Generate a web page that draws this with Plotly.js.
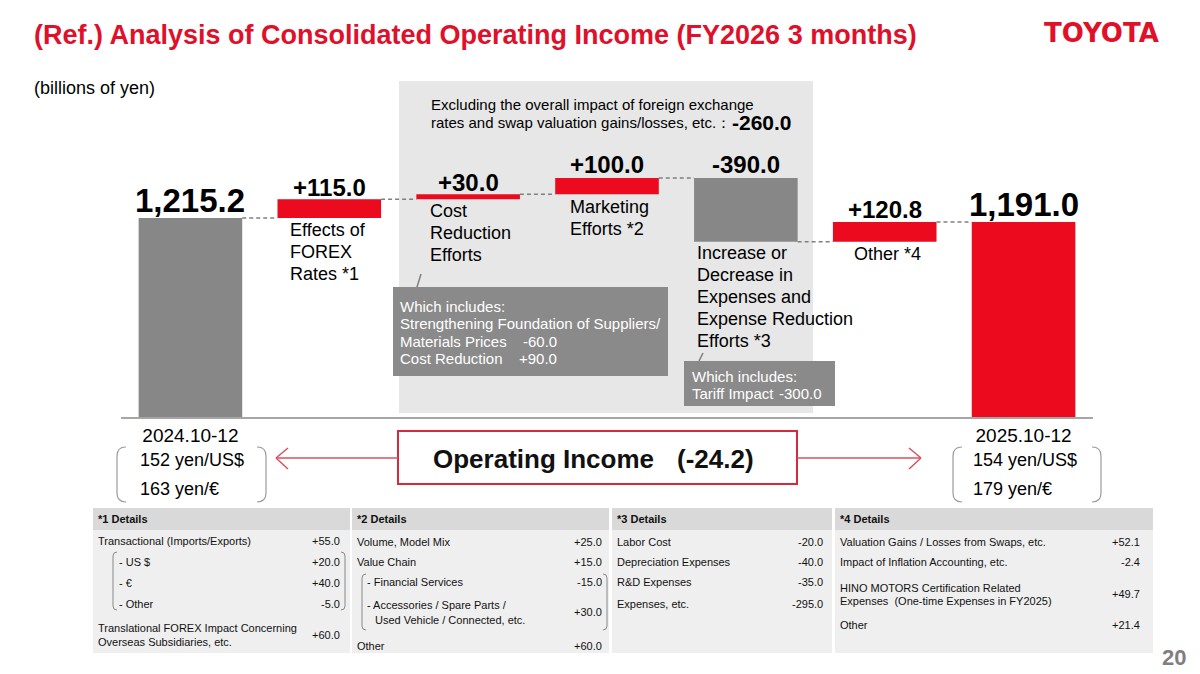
<!DOCTYPE html>
<html><head><meta charset="utf-8">
<script src="https://cdn.plot.ly/plotly-3.0.1.min.js"></script>
<style>html,body{margin:0;padding:0;background:#fff}#chart{width:1200px;height:674px}</style>
</head><body><div id="chart"></div>
<script>
// ================= DATA =================
const categories = ['2024.10-12', 'Effects of FOREX Rates *1', 'Cost Reduction Efforts', 'Marketing Efforts *2',
  'Increase or Decrease in Expenses and Expense Reduction Efforts *3', 'Other *4', '2025.10-12'];
const measures = ['absolute', 'relative', 'relative', 'relative', 'relative', 'relative', 'total'];
const values = [1215.2, 115.0, 30.0, 100.0, -390.0, 120.8, 1191.0];
const valueLabels = ['1,215.2', '+115.0', '+30.0', '+100.0', '-390.0', '+120.8', '1,191.0'];
const categoryLines = [[], ['Effects of', 'FOREX', 'Rates *1'], ['Cost', 'Reduction', 'Efforts'],
  ['Marketing', 'Efforts *2'], ['Increase or', 'Decrease in', 'Expenses and', 'Expense Reduction', 'Efforts *3'],
  ['Other *4'], []];
const tickLabels = ['2024.10-12', '', '', '', '', '', '2025.10-12'];
const rates2024 = ['152 yen/US$', '163 yen/€'];
const rates2025 = ['154 yen/US$', '179 yen/€'];
const excludingNote = ['Excluding the overall impact of foreign exchange', 'rates and swap valuation gains/losses, etc.：'];
const excludingValue = '-260.0';
const operatingIncomeLabel = 'Operating Income';
const operatingIncomeChange = '(-24.2)';
const costCalloutLines = ['Which includes:', 'Strengthening Foundation of Suppliers/', 'Materials Prices', 'Cost Reduction'];
const costCalloutValues = ['', '', '-60.0', '+90.0'];
const tariffCalloutLines = ['Which includes:', 'Tariff Impact'];
const tariffCalloutValues = ['', '-300.0'];
const titleText = '(Ref.) Analysis of Consolidated Operating Income (FY2026 3 months)';
const unitText = '(billions of yen)';
const logoText = 'TOYOTA';
const pageNumber = '20';

const details1Header = '*1 Details';
const details1Labels = ['Transactional (Imports/Exports)', '- US $', '- €', '- Other', 'Translational FOREX Impact Concerning|Overseas Subsidiaries, etc.'];
const details1Values = ['+55.0', '+20.0', '+40.0', '-5.0', '+60.0'];
const details2Header = '*2 Details';
const details2Labels = ['Volume, Model Mix', 'Value Chain', '- Financial Services', '- Accessories / Spare Parts /|  Used Vehicle / Connected, etc.', 'Other'];
const details2Values = ['+25.0', '+15.0', '-15.0', '+30.0', '+60.0'];
const details3Header = '*3 Details';
const details3Labels = ['Labor Cost', 'Depreciation Expenses', 'R&D Expenses', 'Expenses, etc.'];
const details3Values = ['-20.0', '-40.0', '-35.0', '-295.0'];
const details4Header = '*4 Details';
const details4Labels = ['Valuation Gains / Losses from Swaps, etc.', 'Impact of Inflation Accounting, etc.', 'HINO MOTORS Certification Related|Expenses  (One-time Expenses in FY2025)', 'Other'];
const details4Values = ['+52.1', '-2.4', '+49.7', '+21.4'];

// ================= STYLE / LAYOUT =================
const FONT = 'Liberation Sans, Arial, Helvetica, sans-serif';
const RED = '#EB0A1E', GRAY = '#878787';
const L = 121, T = 80, W = 972, H = 337;          // plot area in pixels
const px = x => (x - L) / W;
const py = y => (T + H - y) / H;
const BW = 0.746;

// waterfall geometry from data
const bases = [], heights = [], tops = [], levels = [];
let run = 0;
values.forEach((v, i) => {
  if (measures[i] === 'relative') { bases.push(run); heights.push(v); run += v; }
  else { bases.push(0); heights.push(v); run = v; }
  levels.push(run);
  tops.push(Math.max(bases[i], bases[i] + heights[i]));
});
const barColors = values.map((v, i) => measures[i] === 'total' ? RED : measures[i] === 'absolute' ? GRAY : (v >= 0 ? RED : GRAY));

const annotations = [];
const shapes = [];
function txt(x, y, text, o) {
  o = o || {};
  annotations.push({
    xref: 'paper', yref: 'paper', x: px(x), y: py(y), text: o.bold ? '<b>' + text + '</b>' : text,
    showarrow: false, xanchor: o.anchor || 'left', yanchor: 'middle', borderpad: 0,
    font: { family: o.family || FONT, size: o.size || 11, color: o.color || '#000' }
  });
}
function rect(x0, y0, x1, y1, fill, line, layer) {
  shapes.push({ type: 'rect', xref: 'paper', yref: 'paper', x0: px(x0), x1: px(x1), y0: py(y1), y1: py(y0),
    fillcolor: fill || 'rgba(0,0,0,0)', line: line || { width: 0 }, layer: layer || 'above' });
}
function seg(x0, y0, x1, y1, color, width) {
  shapes.push({ type: 'line', xref: 'paper', yref: 'paper', x0: px(x0), x1: px(x1), y0: py(y0), y1: py(y1),
    line: { color: color, width: width } });
}
function bracket(xv, xend, yt, yb, r, color, width) {
  const d = xend > xv ? r : -r;
  const p = (x, y) => px(x) + ',' + py(y);
  shapes.push({ type: 'path', xref: 'paper', yref: 'paper',
    path: 'M' + p(xv + d, yt) + ' Q' + p(xv, yt) + ' ' + p(xv, yt + r) + ' L' + p(xv, yb - r) + ' Q' + p(xv, yb) + ' ' + p(xv + d, yb),
    line: { color: color, width: width } });
}

// background panel of the "excluding" group
rect(399, 81, 813, 413, '#E7E7E7', null, 'below');

// connectors
for (let i = 0; i < values.length - 1; i++) {
  shapes.push({ type: 'line', xref: 'x', yref: 'y', x0: i + BW / 2, x1: i + 1 - BW / 2, y0: levels[i], y1: levels[i],
    line: { color: '#808080', width: 1.5, dash: '4px,3px' } });
}

// title etc.
txt(33, 35, titleText, { size: 27, bold: true, color: '#E0102A' });
txt(1043, 33, logoText, { size: 26, bold: true, color: '#E0102A', family: 'DejaVu Sans, ' + FONT });
txt(33, 88, unitText, { size: 18 });
txt(1161, 657, pageNumber, { size: 22, bold: true, color: '#7F7F7F' });

// excluding note
txt(430, 104, excludingNote[0], { size: 15 });
txt(430, 122, excludingNote[1], { size: 15 });
txt(731, 122, excludingValue, { size: 21, bold: true });

// value labels (tied to data)
const labelShift = [18, 12, 12, 13, 13, 12, 17];
const labelSize = [33, 24, 24, 24, 24, 24, 33];
valueLabels.forEach((t, i) => {
  annotations.push({ xref: 'x', yref: 'y', x: i, y: tops[i], yshift: labelShift[i], text: '<b>' + t + '</b>',
    showarrow: false, xanchor: 'center', yanchor: 'middle', borderpad: 0,
    font: { family: FONT, size: labelSize[i], color: '#000' } });
});

// category labels
const catX = [0, 289, 429, 569, 696, 887, 0];
const catY = [0, 230, 211, 207, 253, 254, 0];
categoryLines.forEach((lines, i) => {
  lines.forEach((ln, k) => txt(catX[i], catY[i] + k * 22, ln, { size: 18, anchor: i === 5 ? 'center' : 'left' }));
});

// callouts
seg(421, 274, 417, 287, '#7F7F7F', 1.5);
rect(393, 287, 668, 376, '#8A8A8A');
costCalloutLines.forEach((ln, k) => {
  const y = [306, 323, 341, 358][k];
  txt(399, y, ln, { size: 15, color: '#fff' });
  if (costCalloutValues[k]) txt(558, y, costCalloutValues[k], { size: 15, color: '#fff', anchor: 'right' });
});
seg(703, 353, 699, 361, '#7F7F7F', 1.5);
rect(684, 361, 835, 406, '#8A8A8A');
tariffCalloutLines.forEach((ln, k) => {
  const y = [376, 393][k];
  txt(691, y, ln, { size: 15, color: '#fff' });
  if (tariffCalloutValues[k]) txt(823, y, tariffCalloutValues[k], { size: 15, color: '#fff', anchor: 'right' });
});

// rates
rates2024.forEach((t, k) => txt(139, [460, 489][k], t, { size: 18 }));
rates2025.forEach((t, k) => txt(972, [460, 489][k], t, { size: 18 }));
bracket(117, 140, 447, 502, 9, '#9A9A9A', 1.2);
bracket(266, 240, 447, 502, 9, '#9A9A9A', 1.2);
bracket(953, 980, 447, 502, 9, '#9A9A9A', 1.2);
bracket(1101, 1080, 447, 502, 9, '#9A9A9A', 1.2);

// operating income box and arrows
rect(398, 431, 797, 484, null, { color: '#D7283C', width: 2 });
txt(432, 459, operatingIncomeLabel, { size: 26, bold: true, color: '#111' });
txt(755, 459, operatingIncomeChange, { size: 26, bold: true, color: '#111', anchor: 'right' });
const AR = '#D9515F';
seg(398, 458, 276, 458, AR, 1.5); seg(276, 458, 288, 448, AR, 1.5); seg(276, 458, 288, 469, AR, 1.5);
seg(797, 458, 921, 458, AR, 1.5); seg(921, 458, 909, 448, AR, 1.5); seg(921, 458, 909, 469, AR, 1.5);

// detail tables
function panel(x0, x1, header, labels, vals, rowY, indents, valX, lineGap) {
  rect(x0, 508, x1, 530, '#D9D9D9');
  rect(x0, 530, x1, 653, '#EFEFEF');
  txt(x0 + 4, 519, header, { size: 11, bold: true, color: '#111' });
  labels.forEach((lab, k) => {
    const parts = lab.split('|');
    const y0 = rowY[k] - (parts.length - 1) * lineGap / 2;
    parts.forEach((p, j) => txt(x0 + 4 + indents[k] + (j > 0 && p.startsWith('  ') ? 8 : 0), y0 + j * lineGap, p.trim(), { size: 11, color: '#111' }));
    txt(valX, rowY[k], vals[k], { size: 11, color: '#111', anchor: 'right' });
  });
}
panel(93, 350, details1Header, details1Labels, details1Values, [541, 562, 583, 604, 635], [0, 21, 21, 21, 0], 341, 14);
panel(352, 609, details2Header, details2Labels, details2Values, [542, 562, 582, 612, 646], [0, 0, 10, 10, 0], 603, 15);
panel(612, 832, details3Header, details3Labels, details3Values, [542, 562, 582, 604], [0, 0, 0, 0], 824, 13);
panel(835, 1153, details4Header, details4Labels, details4Values, [542, 562, 594, 625], [0, 0, 0, 0], 1141, 13);
bracket(113, 118, 552, 610, 4, '#888', 1);
bracket(345, 340, 552, 610, 4, '#888', 1);
bracket(362, 367, 574, 630, 4, '#888', 1);
bracket(607, 602, 574, 630, 4, '#888', 1);

const trace = {
  type: 'bar', x: categories.map((c, i) => i), y: heights, base: bases, width: BW,
  marker: { color: barColors, line: { width: 0 } }, hoverinfo: 'skip', text: categories, textposition: 'none'
};

const layout = {
  width: 1200, height: 674, margin: { l: L, r: 1200 - L - W, t: T, b: 674 - T - H, pad: 0 },
  paper_bgcolor: '#fff', plot_bgcolor: 'rgba(0,0,0,0)', showlegend: false,
  font: { family: FONT },
  xaxis: { range: [-0.5, 6.5], tickmode: 'array', tickvals: tickLabels.map((t, i) => i), ticktext: tickLabels,
    showgrid: false, zeroline: false, showline: true, linecolor: '#A6A6A6', linewidth: 2, ticks: '',
    tickfont: { family: FONT, size: 19, color: '#000' }, fixedrange: true },
  yaxis: { range: [0, 2058], visible: false, showgrid: false, zeroline: false, fixedrange: true },
  shapes: shapes, annotations: annotations
};
Plotly.newPlot('chart', [trace], layout, { displayModeBar: false, staticPlot: true });
</script></body></html>
